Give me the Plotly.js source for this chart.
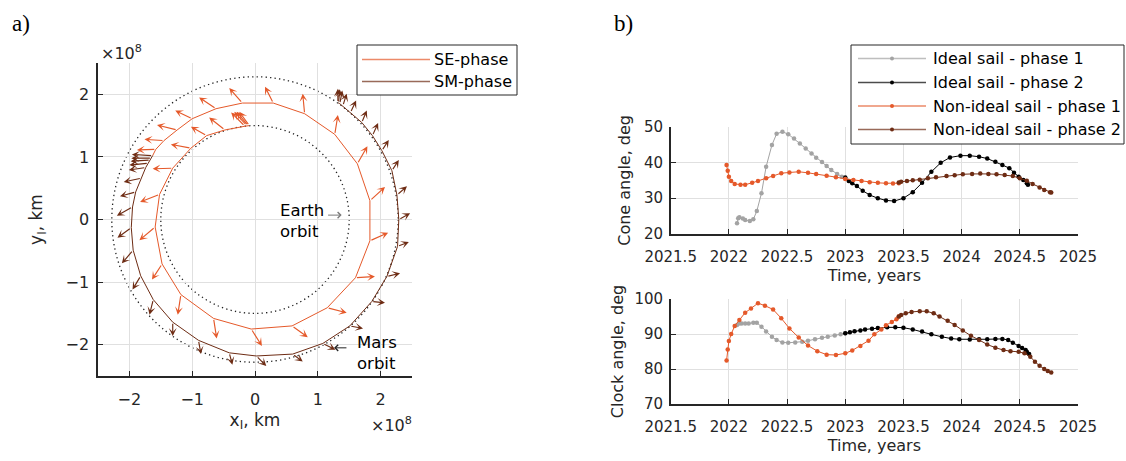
<!DOCTYPE html>
<html><head><meta charset="utf-8">
<script src="https://cdn.plot.ly/plotly-3.0.1.min.js"></script>
<style>html,body{margin:0;padding:0;background:#fff;}#chart{width:1126px;height:461px;}</style>
</head><body><div id="chart"></div>
<script>
// ---------- Panel a) trajectory (units of 1e8 km) ----------
const seX = [-0.09,-0.11,-0.13,-0.16,-0.48,-0.77,-1.02,-1.31,-1.52,-1.59,-1.48,-1.18,-0.66,-0.06,0.59,1.15,1.60,1.83,1.83,1.63,1.27,0.79,0.29,-0.20,-0.62,-1.00,-1.24,-1.45,-1.58,-1.63];
const seY = [1.50,1.50,1.50,1.49,1.43,1.34,1.14,0.82,0.40,-0.12,-0.71,-1.20,-1.58,-1.75,-1.70,-1.41,-0.93,-0.34,0.30,0.89,1.36,1.69,1.86,1.86,1.77,1.61,1.43,1.26,1.12,1.02];
const seU = [-0.16,-0.18,-0.20,-0.22,-0.25,-0.25,-0.32,-0.32,-0.31,-0.25,-0.16,-0.05,0.05,0.17,0.25,0.31,0.31,0.29,0.24,0.16,0.05,-0.03,-0.13,-0.21,-0.27,-0.27,-0.32,-0.31,-0.30];
const seV = [0.22,0.22,0.22,0.22,0.20,0.14,0.06,-0.01,-0.12,-0.21,-0.25,-0.32,-0.32,-0.27,-0.18,-0.08,0.02,0.13,0.22,0.28,0.31,0.32,0.26,0.24,0.18,0.13,0.08,0.02,-0.01];

const smX = [-1.63,-1.65,-1.67,-1.70,-1.74,-1.81,-1.90,-1.95,-1.97,-1.94,-1.82,-1.62,-1.31,-0.90,-0.41,0.02,0.60,1.08,1.51,1.86,2.10,2.27,2.29,2.26,2.18,2.02,1.87,1.70,1.52,1.40,1.35,1.33,1.32];
const smY = [1.02,0.98,0.95,0.90,0.83,0.66,0.44,0.20,-0.13,-0.49,-0.90,-1.28,-1.64,-1.93,-2.13,-2.18,-2.15,-1.98,-1.70,-1.31,-0.91,-0.43,0.00,0.39,0.78,1.10,1.34,1.55,1.71,1.82,1.85,1.86,1.87];
const smU = [-0.33,-0.32,-0.31,-0.30,-0.27,-0.28,-0.25,-0.25,-0.22,-0.18,-0.13,-0.06,0.00,0.04,0.05,0.16,0.16,0.20,0.21,0.21,0.21,0.18,0.18,0.16,0.11,0.11,0.09,0.08,0.09,0.06,0.04,0.02,0.00];
const smV = [0.02,0.00,-0.02,-0.03,-0.04,-0.06,-0.07,-0.14,-0.16,-0.21,-0.22,-0.24,-0.22,-0.22,-0.19,-0.16,-0.12,-0.10,-0.04,-0.02,0.05,0.07,0.10,0.14,0.17,0.17,0.20,0.19,0.19,0.19,0.21,0.22,0.22];

const earthR = 1.5;   // Earth orbit radius, 1e8 km
const marsR = 2.28;   // Mars orbit radius, 1e8 km
const phaseNamesA = ['SE-phase','SM-phase'];
const axTicksA = [-2,-1,0,1,2];

// ---------- Panel b) control angles ----------
const seriesNames = ['Ideal sail - phase 1','Ideal sail - phase 2','Non-ideal sail - phase 1','Non-ideal sail - phase 2'];

const tIdeal1Cone = [2022.07,2022.08,2022.09,2022.12,2022.14,2022.18,2022.21,2022.24,2022.28,2022.32,2022.37,2022.41,2022.46,2022.51,2022.56,2022.61,2022.66,2022.71,2022.75,2022.80,2022.84,2022.88,2022.93,2022.97,2023.00];
const coneIdeal1 = [23.0,24.4,24.7,24.3,23.9,23.6,24.1,26.4,31.4,38.8,44.9,48.0,48.6,47.9,46.7,45.3,43.9,42.5,41.3,40.1,39.0,37.9,36.8,36.0,35.5];
const tIdeal2Cone = [2023.00,2023.03,2023.06,2023.10,2023.15,2023.21,2023.28,2023.35,2023.42,2023.50,2023.58,2023.66,2023.74,2023.82,2023.90,2023.99,2024.07,2024.15,2024.22,2024.29,2024.35,2024.41,2024.45,2024.49,2024.53,2024.56,2024.57];
const coneIdeal2 = [35.8,34.8,34.2,33.4,32.1,30.9,30.0,29.4,29.2,30.0,31.7,34.3,37.4,39.9,41.4,41.9,41.9,41.6,41.1,40.2,39.3,38.4,37.1,36.0,35.1,34.2,33.8];
const tNon1Cone = [2021.98,2021.99,2022.00,2022.02,2022.05,2022.10,2022.14,2022.20,2022.25,2022.32,2022.38,2022.45,2022.52,2022.60,2022.68,2022.75,2022.84,2022.92,2023.00,2023.07,2023.14,2023.21,2023.28,2023.35,2023.41,2023.46];
const coneNon1 = [39.3,37.7,36.0,34.8,34.0,33.8,33.8,34.3,34.8,35.6,36.2,37.0,37.2,37.4,37.1,36.8,36.3,35.9,35.4,35.1,34.8,34.5,34.3,34.2,34.1,34.2];
const tNon2Cone = [2023.46,2023.48,2023.53,2023.58,2023.64,2023.71,2023.78,2023.87,2023.94,2024.01,2024.09,2024.16,2024.23,2024.30,2024.37,2024.44,2024.50,2024.56,2024.61,2024.67,2024.71,2024.76,2024.77];
const coneNon2 = [34.4,34.6,34.8,35.0,35.2,35.6,35.9,36.2,36.4,36.7,36.8,36.9,36.8,36.7,36.5,36.2,35.6,34.9,34.0,33.0,32.3,31.7,31.6];

const tIdeal1Clock = [2022.07,2022.09,2022.11,2022.14,2022.17,2022.21,2022.24,2022.28,2022.32,2022.37,2022.41,2022.46,2022.51,2022.57,2022.63,2022.68,2022.74,2022.80,2022.85,2022.91,2022.96,2023.00];
const clockIdeal1 = [92.6,93.0,93.0,93.0,93.0,93.2,93.2,92.1,90.7,89.2,88.3,87.6,87.5,87.6,87.8,88.1,88.5,88.9,89.2,89.6,89.9,90.2];
const tIdeal2Clock = [2023.00,2023.04,2023.08,2023.13,2023.17,2023.23,2023.28,2023.36,2023.43,2023.50,2023.58,2023.66,2023.74,2023.83,2023.91,2023.98,2024.07,2024.15,2024.22,2024.29,2024.35,2024.40,2024.44,2024.49,2024.52,2024.55,2024.56,2024.58];
const clockIdeal2 = [90.2,90.5,90.8,91.0,91.3,91.5,91.7,91.9,91.9,91.8,91.3,90.7,89.9,89.2,88.7,88.5,88.4,88.5,88.5,88.6,88.6,88.3,87.5,86.6,86.0,85.4,84.9,84.3];
const tNon1Clock = [2021.98,2021.99,2022.00,2022.02,2022.05,2022.09,2022.14,2022.19,2022.25,2022.31,2022.38,2022.45,2022.52,2022.60,2022.68,2022.76,2022.84,2022.92,2023.00,2023.06,2023.13,2023.20,2023.25,2023.31,2023.35,2023.40,2023.44,2023.46];
const clockNon1 = [82.4,85.6,88.0,90.0,92.3,94.0,96.1,97.3,98.8,98.1,97.0,94.5,91.6,89.0,86.7,85.1,84.1,84.0,84.5,85.3,86.6,88.1,89.9,91.3,92.5,93.4,94.2,95.0];
const tNon2Clock = [2023.46,2023.48,2023.52,2023.57,2023.64,2023.70,2023.76,2023.81,2023.88,2023.94,2024.01,2024.08,2024.15,2024.22,2024.29,2024.36,2024.42,2024.49,2024.54,2024.59,2024.63,2024.67,2024.71,2024.74,2024.77];
const clockNon2 = [95.0,95.4,95.9,96.3,96.5,96.5,95.9,95.0,93.8,92.6,91.0,89.5,88.3,87.0,86.1,85.4,85.1,84.9,84.5,83.5,82.1,80.9,80.0,79.4,79.0];

const yearTicks = [2021.5,2022,2022.5,2023,2023.5,2024,2024.5,2025];
const yearTickText = ['2021.5','2022','2022.5','2023','2023.5','2024','2024.5','2025'];
const coneTicks = [20,30,40,50];
const clockTicks = [70,80,90,100];

// ---------- styling ----------
const W = 1126, H = 461;
const px = p => p / W, py = p => 1 - p / H;
const ORANGE = '#E5592A', BROWN = '#6E2C14', GRAY = '#A3A3A3', BLACK = '#000000';
const AX = '#262626', GRID = '#e0e0e0';
const FONT = 'DejaVu Sans, Arial, sans-serif';
const seriesColors = [GRAY, BLACK, ORANGE, BROWN];

function axisBase(extra) {
  return Object.assign({
    showline: true, linecolor: AX, linewidth: 1.6, mirror: false,
    ticks: 'inside', ticklen: 5, tickcolor: AX, tickwidth: 1,
    showgrid: true, gridcolor: GRID, gridwidth: 1, zeroline: false,
    automargin: false, fixedrange: true,
    tickfont: {family: FONT, size: 15, color: AX}
  }, extra);
}

const traces = [
  {x: seX, y: seY, xaxis: 'x', yaxis: 'y', mode: 'lines', line: {color: ORANGE, width: 1}, name: phaseNamesA[0], showlegend: false},
  {x: smX, y: smY, xaxis: 'x', yaxis: 'y', mode: 'lines', line: {color: BROWN, width: 1}, name: phaseNamesA[1], showlegend: false}
];
const coneSets = [[tIdeal1Cone, coneIdeal1],[tIdeal2Cone, coneIdeal2],[tNon1Cone, coneNon1],[tNon2Cone, coneNon2]];
const clockSets = [[tIdeal1Clock, clockIdeal1],[tIdeal2Clock, clockIdeal2],[tNon1Clock, clockNon1],[tNon2Clock, clockNon2]];
coneSets.forEach((s, i) => traces.push({x: s[0], y: s[1], xaxis: 'x2', yaxis: 'y2', mode: 'lines+markers',
  line: {color: seriesColors[i], width: 1}, marker: {color: seriesColors[i], size: 4.5}, name: seriesNames[i], showlegend: false}));
clockSets.forEach((s, i) => traces.push({x: s[0], y: s[1], xaxis: 'x3', yaxis: 'y3', mode: 'lines+markers',
  line: {color: seriesColors[i], width: 1}, marker: {color: seriesColors[i], size: 4.5}, name: seriesNames[i], showlegend: false}));

const annotations = [];
function quiver(X, Y, U, V, color) {
  for (let i = 0; i < U.length; i++) {
    annotations.push({xref: 'x', yref: 'y', axref: 'x', ayref: 'y',
      x: X[i] + U[i], y: Y[i] + V[i], ax: X[i], ay: Y[i], text: '', showarrow: true,
      arrowhead: 3, arrowsize: 1.15, arrowwidth: 1.15, arrowcolor: color, standoff: 0, startstandoff: 0});
  }
}
quiver(seX, seY, seU, seV, ORANGE);
quiver(smX, smY, smU, smV, BROWN);

const txt = (text, x, y, opts) => Object.assign({text, x, y, xref: 'paper', yref: 'paper', showarrow: false,
  font: {family: FONT, size: 16, color: AX}, xanchor: 'center', yanchor: 'middle'}, opts || {});

// orbit labels
annotations.push({xref: 'x', yref: 'y', axref: 'x', ayref: 'y', x: 1.38, y: 0.07, ax: 1.14, ay: 0.07, text: '', showarrow: true,
  arrowhead: 4, arrowsize: 1.2, arrowwidth: 1, arrowcolor: '#7a7a7a', standoff: 0});
annotations.push({xref: 'x', yref: 'y', x: 0.37, y: -0.03, text: 'Earth<br>orbit', showarrow: false, align: 'left',
  xanchor: 'left', yanchor: 'middle', font: {family: FONT, size: 16.5, color: '#000'}});
annotations.push({xref: 'x', yref: 'y', axref: 'x', ayref: 'y', x: 1.26, y: -2.05, ax: 1.48, ay: -2.05, text: '', showarrow: true,
  arrowhead: 4, arrowsize: 1.2, arrowwidth: 1, arrowcolor: '#222', standoff: 0});
annotations.push({xref: 'x', yref: 'y', x: 1.6, y: -2.14, text: 'Mars<br>orbit', showarrow: false, align: 'left',
  xanchor: 'left', yanchor: 'middle', font: {family: FONT, size: 16.5, color: '#000'}});

// exponent labels
annotations.push(txt('×10<sup>8</sup>', px(121), py(52)));
annotations.push(txt('×10<sup>8</sup>', px(391), py(424)));
// panel letters
annotations.push(txt('a)', px(21), py(23), {font: {family: 'Liberation Serif, Times New Roman, serif', size: 23, color: '#000'}}));
annotations.push(txt('b)', px(623), py(23), {font: {family: 'Liberation Serif, Times New Roman, serif', size: 23, color: '#000'}}));

const shapes = [
  {type: 'circle', xref: 'x', yref: 'y', x0: -earthR, x1: earthR, y0: -earthR, y1: earthR, layer: 'below',
   line: {color: '#222', width: 1.3, dash: '1.3px,3.2px'}},
  {type: 'circle', xref: 'x', yref: 'y', x0: -marsR, x1: marsR, y0: -marsR, y1: marsR, layer: 'below',
   line: {color: '#222', width: 1.3, dash: '1.3px,3.2px'}}
];

// custom legends (line samples longer than plotly's)
function legendBox(x0, y0, x1, y1) {
  shapes.push({type: 'rect', xref: 'paper', yref: 'paper', x0: px(x0), x1: px(x1), y0: py(y1), y1: py(y0),
    fillcolor: '#fff', line: {color: AX, width: 1}, layer: 'above'});
}
function legendItem(lx0, lx1, ly, color, label, dot, tx) {
  shapes.push({type: 'line', xref: 'paper', yref: 'paper', x0: px(lx0), x1: px(lx1), y0: py(ly), y1: py(ly),
    line: {color: color, width: 1.5}, opacity: 0.7, layer: 'above'});
  if (dot) {
    const mx = (lx0 + lx1) / 2;
    shapes.push({type: 'circle', xref: 'paper', yref: 'paper', x0: px(mx - 2), x1: px(mx + 2), y0: py(ly + 2), y1: py(ly - 2),
      fillcolor: color, line: {color: color, width: 0}, layer: 'above'});
  }
  annotations.push(txt(label, px(tx), py(ly), {xanchor: 'left', font: {family: FONT, size: 16, color: '#000'}}));
}
legendBox(357, 45, 517, 95);
legendItem(362, 430, 59.5, ORANGE, phaseNamesA[0], false, 432);
legendItem(362, 430, 81.5, BROWN, phaseNamesA[1], false, 432);
legendBox(851, 45, 1124, 144);
[58.5, 82.5, 106, 129.5].forEach((yy, i) => legendItem(858, 926, yy, seriesColors[i], seriesNames[i], true, 931));

const layout = {
  width: W, height: H, margin: {l: 0, r: 0, t: 0, b: 0}, showlegend: false,
  paper_bgcolor: '#fff', plot_bgcolor: '#fff',
  font: {family: FONT, color: AX},
  xaxis: axisBase({domain: [px(98), px(412)], anchor: 'y', range: [-2.5, 2.5], tickvals: axTicksA,
    tickfont: {family: FONT, size: 16, color: AX}, ticklabelstandoff: 8,
    title: {text: 'x<sub>I</sub>, km', font: {family: FONT, size: 17, color: AX}, standoff: 6}}),
  yaxis: axisBase({domain: [py(376), py(63)], anchor: 'x', range: [-2.5, 2.5], tickvals: axTicksA,
    tickfont: {family: FONT, size: 16, color: AX}, ticklabelstandoff: 4,
    title: {text: 'y<sub>I</sub>, km', font: {family: FONT, size: 17, color: AX}, standoff: 18}}),
  xaxis2: axisBase({domain: [px(670.7), px(1078)], anchor: 'y2', range: [2021.5, 2025], tickvals: yearTicks, ticktext: yearTickText,
    ticklabelstandoff: 8, title: {text: 'Time, years', font: {family: FONT, size: 16, color: AX}, standoff: 5}}),
  yaxis2: axisBase({domain: [py(234), py(126.7)], anchor: 'x2', range: [20, 50], tickvals: coneTicks, ticklabelstandoff: 3,
    title: {text: 'Cone angle, deg', font: {family: FONT, size: 16, color: AX}, standoff: 9}}),
  xaxis3: axisBase({domain: [px(670.7), px(1078)], anchor: 'y3', range: [2021.5, 2025], tickvals: yearTicks, ticktext: yearTickText,
    ticklabelstandoff: 8, title: {text: 'Time, years', font: {family: FONT, size: 16, color: AX}, standoff: 5}}),
  yaxis3: axisBase({domain: [py(404), py(299)], anchor: 'x3', range: [70, 100], tickvals: clockTicks, ticklabelstandoff: 3,
    title: {text: 'Clock angle, deg', font: {family: FONT, size: 16, color: AX}, standoff: 7}}),
  shapes: shapes, annotations: annotations
};

Plotly.newPlot('chart', traces, layout, {staticPlot: true, displayModeBar: false});
</script></body></html>
